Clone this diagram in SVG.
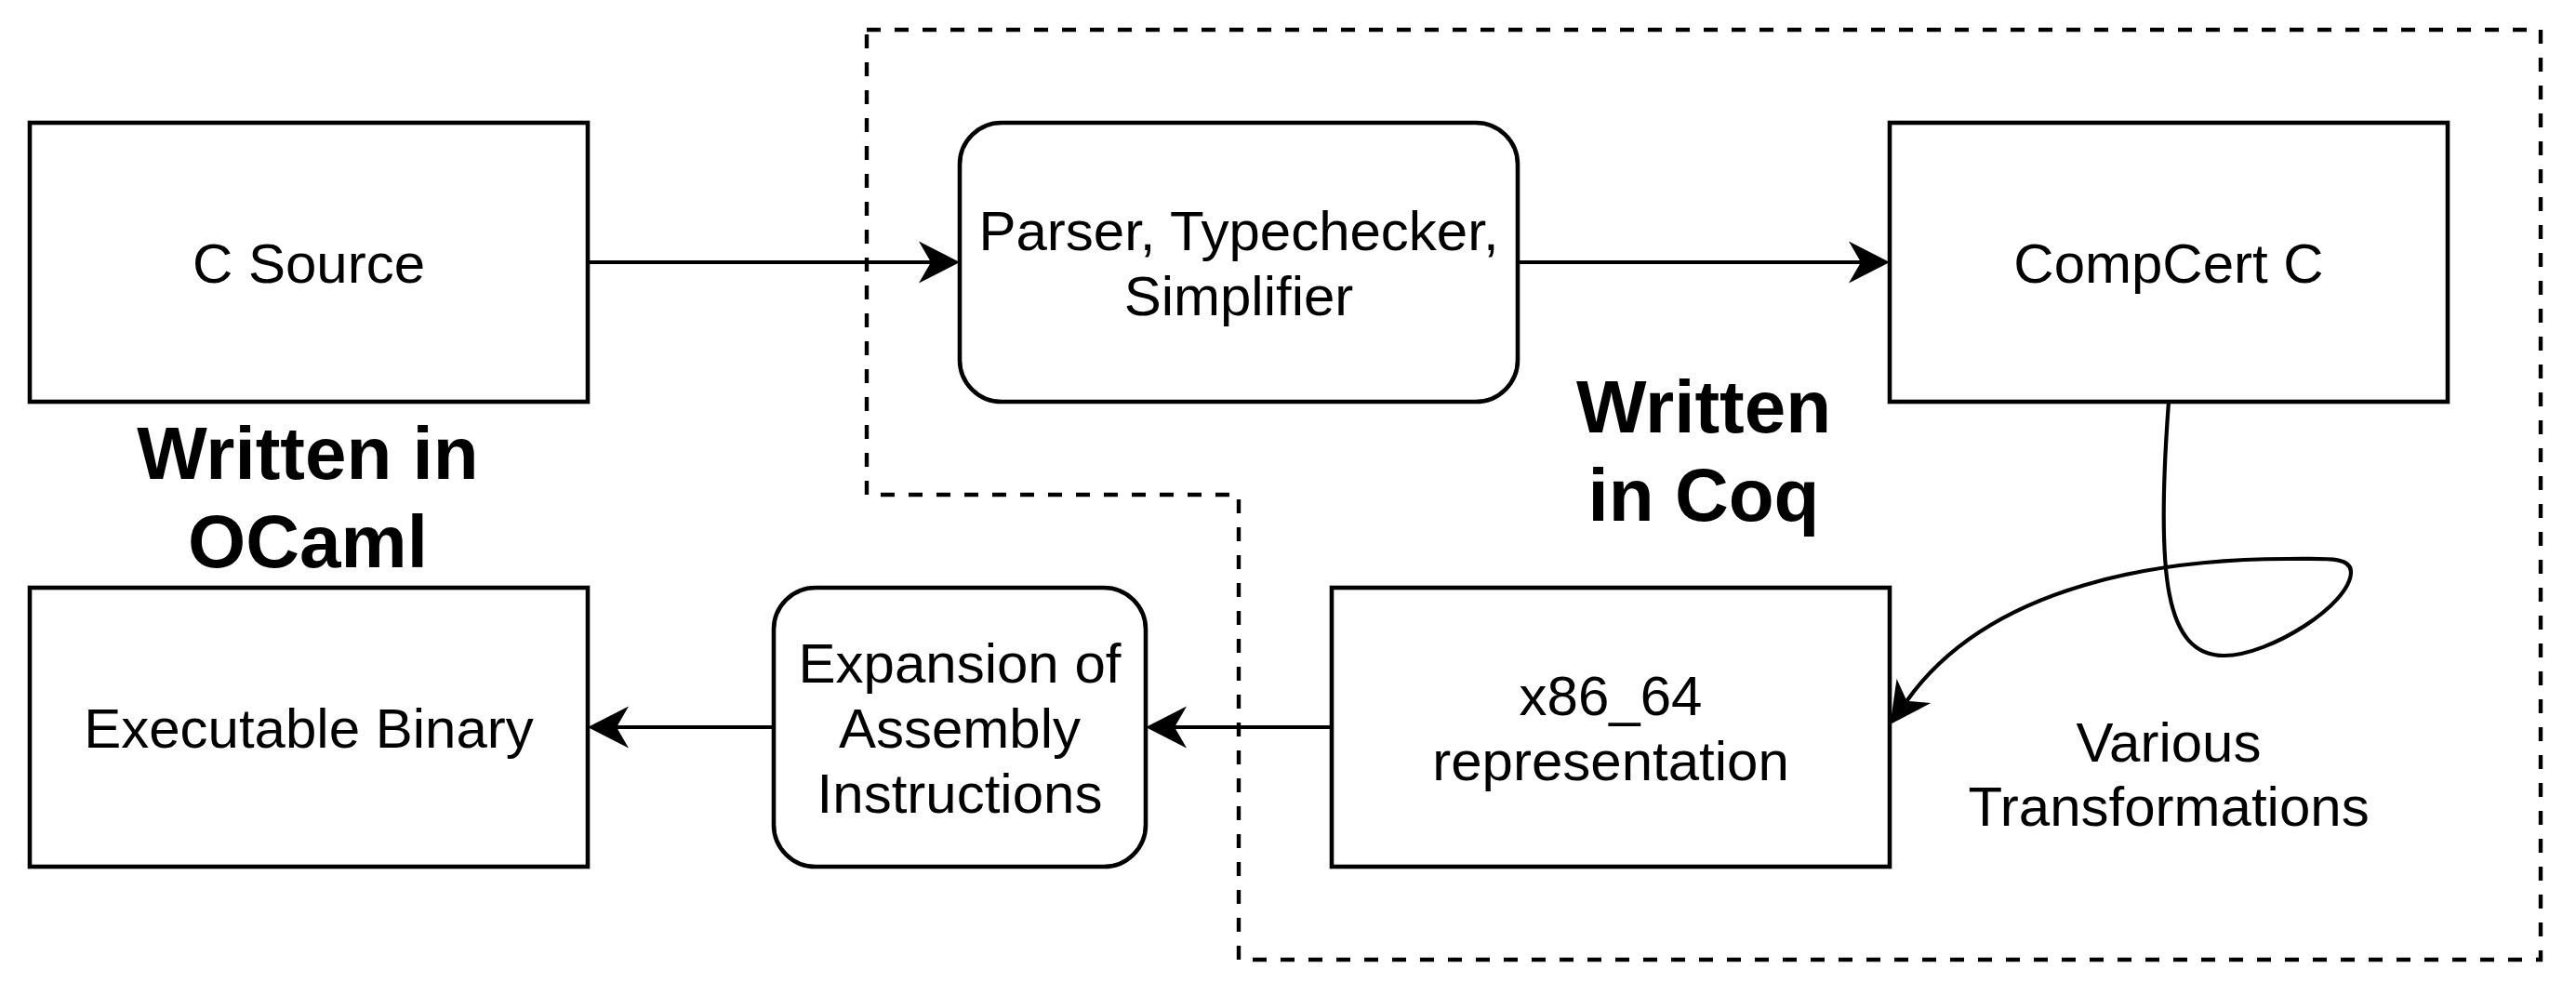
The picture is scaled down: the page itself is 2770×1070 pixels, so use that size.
<svg xmlns="http://www.w3.org/2000/svg" width="2770" height="1070" viewBox="0 0 2770 1070">
<style>
.box{fill:#fff;stroke:#000;stroke-width:4.6}
.lbl{font-family:"Liberation Sans",Arial,Helvetica,sans-serif;font-size:60px;fill:#000;text-anchor:middle}
.big{font-family:"Liberation Sans",Arial,Helvetica,sans-serif;font-size:80px;font-weight:bold;fill:#000;text-anchor:middle}
.edge{fill:none;stroke:#000;stroke-width:4.2;marker-end:url(#arrow)}
.region{fill:none;stroke:#000;stroke-width:4.4;stroke-dasharray:15 15}
</style>
<defs>
<marker id="arrow" markerUnits="userSpaceOnUse" markerWidth="46" markerHeight="47" refX="14" refY="23.5" orient="auto" overflow="visible">
<path d="M1 1 L45 23.5 L1 46 L14 23.5 Z" fill="#000"/>
</marker>
</defs>
<rect x="0" y="0" width="2770" height="1070" fill="#fff"/>
<g id="coq-region">
<path class="region" d="M932 32 H2732 V1032 H1332 V532 H932 Z"/>
</g>
<g id="connectors">
<path class="edge" d="M632 282 H1001"/>
<path class="edge" d="M1632 282 H2001"/>
<path class="edge" d="M1432 782 H1263"/>
<path class="edge" d="M832 782 H663"/>
<path class="edge" d="M2332 432 C2318 620 2328 705 2392 705 C2440 705 2528 650 2528 615 C2528 598 2500 601 2460 601 C2330 601 2141 626 2050.4 753.7"/>
<text class="lbl" x="2332" y="819">Various</text>
<text class="lbl" x="2332" y="888">Transformations</text>
</g>
<g id="c-source">
<rect class="box" x="32" y="132" width="600" height="300"/>
<text class="lbl" x="332" y="303.5">C Source</text>
</g>
<g id="parser">
<rect class="box" x="1032" y="132" width="600" height="300" rx="45" ry="45"/>
<text class="lbl" x="1332" y="268.5">Parser, Typechecker,</text>
<text class="lbl" x="1332" y="338.5">Simplifier</text>
</g>
<g id="compcert-c">
<rect class="box" x="2032" y="132" width="600" height="300"/>
<text class="lbl" x="2332" y="303.5">CompCert C</text>
</g>
<g id="x86-64">
<rect class="box" x="1432" y="632" width="600" height="300"/>
<text class="lbl" x="1732" y="768.5">x86_64</text>
<text class="lbl" x="1732" y="838.5">representation</text>
</g>
<g id="expansion">
<rect class="box" x="832" y="632" width="400" height="300" rx="45" ry="45"/>
<text class="lbl" x="1032" y="733.5">Expansion of</text>
<text class="lbl" x="1032" y="803.5">Assembly</text>
<text class="lbl" x="1032" y="873.5">Instructions</text>
</g>
<g id="executable">
<rect class="box" x="32" y="632" width="600" height="300"/>
<text class="lbl" x="332" y="803.5">Executable Binary</text>
</g>
<g id="written-ocaml">
<text class="big" x="331" y="515">Written in</text>
<text class="big" x="331" y="610">OCaml</text>
</g>
<g id="written-coq">
<text class="big" x="1832" y="465">Written</text>
<text class="big" x="1832" y="560">in Coq</text>
</g>
</svg>
